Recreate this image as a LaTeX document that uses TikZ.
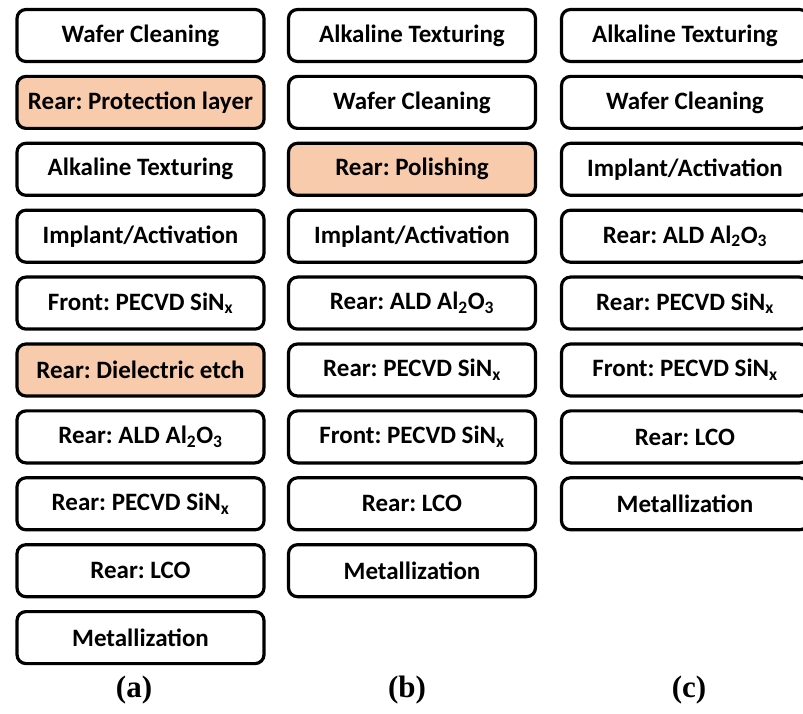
\documentclass[tikz,border=0pt]{standalone}
\usepackage{fontspec}
\setmainfont{Carlito}
\newfontfamily\capfont{Liberation Serif}
\usepackage{xcolor}
\usepackage{tikz}
\usetikzlibrary{positioning}

\definecolor{peach}{HTML}{F8CBAD}

\begin{document}
\begin{tikzpicture}[
        x=1pt, y=1pt,
        font=\fontsize{25}{29}\selectfont\bfseries\frenchspacing,
        box/.style={draw, line width=3.2pt, rounded corners=9pt, align=center, inner sep=2pt,
                    minimum width=247pt, minimum height=52pt, fill=white},
        hot/.style={box, fill=peach},
        caption/.style={font=\fontsize{31}{35}\selectfont\capfont\bfseries}
    ]
        \useasboundingbox (0,0) rectangle (803,713);
        \clip (0,0) rectangle (803,713);

        % process (a)
        \node[box] (a1) at (140.5,677.5) {Wafer Cleaning};
        \node[hot, below=11.7pt of a1] (a2) {Rear: Protection layer};
        \node[box, below=11.7pt of a2] (a3) {Alkaline Texturing};
        \node[box, below=11.7pt of a3] (a4) {Implant/Activation};
        \node[box, below=11.7pt of a4] (a5) {Front: PECVD SiN\textsubscript{x}};
        \node[hot, below=11.7pt of a5] (a6) {Rear: Dielectric etch};
        \node[box, below=11.7pt of a6] (a7) {Rear: ALD Al\textsubscript{2}O\textsubscript{3}};
        \node[box, below=11.7pt of a7] (a8) {Rear: PECVD SiN\textsubscript{x}};
        \node[box, below=11.7pt of a8] (a9) {Rear: LCO};
        \node[box, below=11.7pt of a9] (a10) {Metallization};

        % process (b)
        \node[box] (b1) at (412,677.5) {Alkaline Texturing};
        \node[box, below=11.7pt of b1] (b2) {Wafer Cleaning};
        \node[hot, below=11.7pt of b2] (b3) {Rear: Polishing};
        \node[box, below=11.7pt of b3] (b4) {Implant/Activation};
        \node[box, below=11.7pt of b4] (b5) {Rear: ALD Al\textsubscript{2}O\textsubscript{3}};
        \node[box, below=11.7pt of b5] (b6) {Rear: PECVD SiN\textsubscript{x}};
        \node[box, below=11.7pt of b6] (b7) {Front: PECVD SiN\textsubscript{x}};
        \node[box, below=11.7pt of b7] (b8) {Rear: LCO};
        \node[box, below=11.7pt of b8] (b9) {Metallization};

        % process (c)
        \node[box] (c1) at (685,677.5) {Alkaline Texturing};
        \node[box, below=11.7pt of c1] (c2) {Wafer Cleaning};
        \node[box, below=11.7pt of c2] (c3) {Implant/Activation};
        \node[box, below=11.7pt of c3] (c4) {Rear: ALD Al\textsubscript{2}O\textsubscript{3}};
        \node[box, below=11.7pt of c4] (c5) {Rear: PECVD SiN\textsubscript{x}};
        \node[box, below=11.7pt of c5] (c6) {Front: PECVD SiN\textsubscript{x}};
        \node[box, below=11.7pt of c6] (c7) {Rear: LCO};
        \node[box, below=11.7pt of c7] (c8) {Metallization};

        % captions
        \node[caption] (capa) at (134,23) {(a)};
        \node[caption] (capb) at (407,23) {(b)};
        \node[caption] (capc) at (689,23) {(c)};
    \end{tikzpicture}
\end{document}
